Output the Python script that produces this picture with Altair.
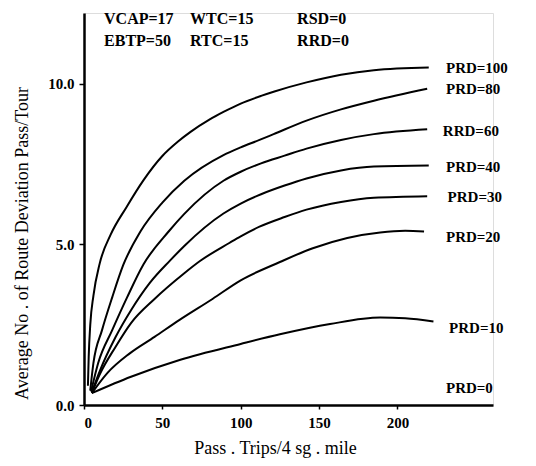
import altair as alt
import pandas as pd

# ---- data ----
prd100_x = [2.5, 3, 4, 6, 10, 17, 27, 38, 50, 60, 68, 80, 89, 100, 113, 121, 142, 164, 185, 220]
prd100_y = [0.6, 1.5, 2.5, 3.4, 4.4, 5.3, 6.15, 7.0, 7.75, 8.2, 8.5, 8.88, 9.12, 9.38, 9.62, 9.75, 10.04, 10.28, 10.42, 10.5]

prd80_x = [4, 6, 11.5, 18, 25, 36, 50, 64, 89, 100, 112, 121, 142, 164, 185, 219]
prd80_y = [0.45, 1.3, 2.33, 3.35, 4.35, 5.4, 6.3, 6.98, 7.78, 8.02, 8.25, 8.43, 8.85, 9.2, 9.47, 9.84]

prd60_x = [4.5, 9, 18, 27.5, 38, 54, 64, 89, 100, 113, 128, 142, 164, 185, 219]
prd60_y = [0.42, 1.3, 2.33, 3.35, 4.38, 5.4, 5.95, 6.98, 7.26, 7.52, 7.76, 7.98, 8.25, 8.43, 8.58]

prd40_x = [5, 10, 20, 30, 42, 55, 64, 89, 100, 113, 128, 142, 164, 185, 220]
prd40_y = [0.4, 1.05, 2.1, 2.95, 3.8, 4.5, 4.95, 5.96, 6.27, 6.56, 6.83, 7.05, 7.3, 7.42, 7.45]

prd30_x = [5, 10, 20, 30, 45, 64, 74, 93, 100, 112, 128, 142, 164, 185, 219]
prd30_y = [0.38, 0.95, 1.8, 2.55, 3.3, 4.1, 4.48, 5.05, 5.25, 5.55, 5.85, 6.08, 6.32, 6.45, 6.5]

prd20_x = [5, 15, 29, 45, 61, 82, 100, 125, 146, 168, 189, 205, 217]
prd20_y = [0.37, 1.0, 1.6, 2.12, 2.65, 3.3, 3.88, 4.45, 4.88, 5.2, 5.37, 5.42, 5.4]

prd10_x = [5, 30, 61, 100, 125, 157, 189, 205, 223]
prd10_y = [0.37, 0.88, 1.40, 1.9, 2.2, 2.52, 2.72, 2.7, 2.6]

series = {
    "PRD=100": (prd100_x, prd100_y),
    "PRD=80": (prd80_x, prd80_y),
    "PRD=60": (prd60_x, prd60_y),
    "PRD=40": (prd40_x, prd40_y),
    "PRD=30": (prd30_x, prd30_y),
    "PRD=20": (prd20_x, prd20_y),
    "PRD=10": (prd10_x, prd10_y),
}

label_text = ["PRD=100", "PRD=80", "RRD=60", "PRD=40", "PRD=30", "PRD=20", "PRD=10", "PRD=0"]
label_x = [231, 231, 229, 231, 232, 231, 233, 231]
label_y = [10.5, 9.84, 8.54, 7.42, 6.46, 5.22, 2.39, 0.53]

param_text = ["VCAP=17", "WTC=15", "RSD=0", "EBTP=50", "RTC=15", "RRD=0"]
param_x = [12.8, 67.7, 136, 12.8, 67.7, 136]
param_y = [12.02, 12.02, 12.02, 11.34, 11.34, 11.34]

x_ticks = [0, 50, 100, 150, 200]
y_ticks = [0, 5, 10]

rows = []
for name, (xs, ys) in series.items():
    for i, (a, b) in enumerate(zip(xs, ys)):
        rows.append({"series": name, "x": a, "y": b, "i": i})
df = pd.DataFrame(rows)
labels = pd.DataFrame({"t": label_text, "x": label_x, "y": label_y})
params = pd.DataFrame({"t": param_text, "x": param_x, "y": param_y})

FONT = "Liberation Serif"

xscale = alt.Scale(domain=[0, 261], nice=False, zero=False)
yscale = alt.Scale(domain=[0, 12.2], nice=False, zero=False)

xaxis = alt.Axis(values=x_ticks, title="Pass . Trips/4 sg . mile", grid=False,
                 domainWidth=2.5, domainColor="black", tickColor="black", tickSize=4,
                 tickWidth=1.5, labelFont=FONT, labelFontSize=15, labelFontWeight="bold",
                 labelColor="black", labelPadding=6, titleFont=FONT, titleFontSize=18,
                 titleFontWeight="normal", titleColor="black", titleX=191, titleY=43,
                 titleBaseline="middle", titleAnchor="start", titleAlign="center")
yaxis = alt.Axis(values=y_ticks, format=".1f", title="Average No . of Route Deviation Pass/Tour",
                 grid=False, domainWidth=2.5, domainColor="black", tickColor="black",
                 tickSize=5, tickWidth=1.5, labelFont=FONT, labelFontSize=15,
                 labelFontWeight="bold", labelColor="black", labelPadding=5,
                 titleFont=FONT, titleFontSize=18, titleFontWeight="normal",
                 titleColor="black", titleX=-62, titleY=230, titleAngle=270,
                 titleBaseline="middle", titleAlign="center", titleAnchor="start")

lines = alt.Chart(df).mark_line(interpolate="monotone", color="black", strokeWidth=2).encode(
    x=alt.X("x:Q", scale=xscale, axis=xaxis),
    y=alt.Y("y:Q", scale=yscale, axis=yaxis),
    detail="series:N",
    order="i:Q",
)

lab = alt.Chart(labels).mark_text(align="left", baseline="middle", font=FONT,
                                  fontSize=15, fontWeight="bold", color="black").encode(
    x=alt.X("x:Q", scale=xscale), y=alt.Y("y:Q", scale=yscale), text="t:N")

par = alt.Chart(params).mark_text(align="left", baseline="middle", font=FONT,
                                  fontSize=16, fontWeight="bold", color="black").encode(
    x=alt.X("x:Q", scale=xscale), y=alt.Y("y:Q", scale=yscale), text="t:N")

chart = alt.layer(lines, lab, par).properties(
    width=409, height=392,
    autosize=alt.AutoSizeParams(type="none"),
    padding={"left": 76, "top": 5, "right": 35, "bottom": 60},
).configure_view(stroke=None).configure(background="white")

chart.save("out.html", embed_options={"renderer": "svg", "actions": False})
